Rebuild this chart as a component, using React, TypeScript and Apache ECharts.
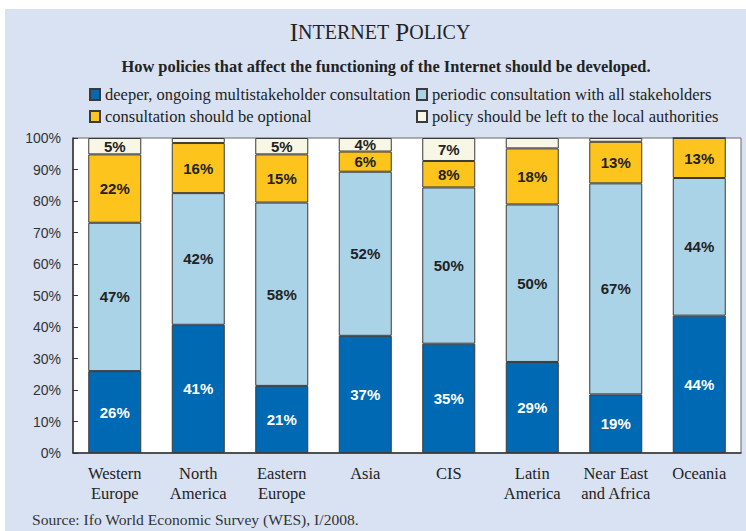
import React, { useEffect, useRef } from "react";
import * as echarts from "echarts";

const categories = [
  "Western\nEurope",
  "North\nAmerica",
  "Eastern\nEurope",
  "Asia",
  "CIS",
  "Latin\nAmerica",
  "Near East\nand Africa",
  "Oceania",
];

const seriesNames = [
  "deeper, ongoing multistakeholder consultation",
  "periodic consultation with all stakeholders",
  "consultation should be optional",
  "policy should be left to the local authorities",
];

const deeper = [26.0, 40.7, 21.3, 37.2, 34.7, 28.9, 18.6, 43.6];
const periodic = [47.1, 41.8, 58.2, 52.1, 49.6, 50.0, 67.0, 43.7];
const optional = [21.7, 15.9, 15.3, 6.4, 8.4, 17.8, 13.2, 12.7];
const local = [5.2, 1.6, 5.2, 4.3, 7.3, 3.3, 1.2, 0];

const yTicks = [0, 10, 20, 30, 40, 50, 60, 70, 80, 90, 100];

const colors = ["#0069b3", "#aad3e7", "#fcc41d", "#f8f6e5"];

export default function App() {
  const ref = useRef<HTMLDivElement>(null);
  useEffect(() => {
    if (!ref.current) return;
    const chart = echarts.init(ref.current, null, { renderer: "svg" });
    const values = [deeper, periodic, optional, local];
    const serif = "'Liberation Serif', 'Times New Roman', serif";
    const sans = "'Liberation Sans', Arial, sans-serif";
    const legendCommon = {
      orient: "vertical",
      padding: 0,
      itemWidth: 10,
      itemHeight: 11,
      itemGap: 5,
      icon: "rect",
      textStyle: { fontFamily: serif, fontSize: 16.5, color: "#222", lineHeight: 17 },
      selectedMode: false,
    };
    chart.setOption({
      animation: false,
      backgroundColor: "#ffffff",
      graphic: [
        {
          type: "rect",
          z: -100,
          silent: true,
          shape: { x: 5, y: 9, width: 741, height: 522 },
          style: { fill: "#d9e2f3" },
        },
        {
          type: "text",
          x: 380,
          y: 32,
          style: {
            text: "{a|I}{b|NTERNET}{a| P}{b|OLICY}",
            textAlign: "center",
            textVerticalAlign: "middle",
            fill: "#222",
            fontFamily: serif,
            rich: {
              a: { fontFamily: serif, fontSize: 25, fill: "#222", color: "#222" },
              b: { fontFamily: serif, fontSize: 20, fill: "#222", color: "#222" },
            },
          },
        },
        {
          type: "text",
          x: 386,
          y: 66,
          style: {
            text: "How policies that affect the functioning of the Internet should be developed.",
            textAlign: "center",
            textVerticalAlign: "middle",
            fill: "#222",
            font: "bold 16.4px " + serif,
          },
        },
        {
          type: "text",
          x: 32,
          y: 519,
          style: {
            text: "Source: Ifo World Economic Survey (WES), I/2008.",
            textAlign: "left",
            textVerticalAlign: "middle",
            fill: "#333",
            font: "15.6px " + serif,
          },
        },
      ],
      legend: [
        { ...legendCommon, data: [seriesNames[0], seriesNames[2]], left: 89, top: 86 },
        { ...legendCommon, data: [seriesNames[1], seriesNames[3]], left: 416, top: 86 },
      ],
      grid: {
        left: 73,
        right: 5,
        top: 138,
        bottom: 78,
        show: true,
        backgroundColor: "#ffffff",
        borderColor: "#666",
        borderWidth: 1,
      },
      xAxis: {
        type: "category",
        data: categories,
        axisLine: { lineStyle: { color: "#333", width: 1.5 } },
        axisTick: { inside: true, length: 7, lineStyle: { color: "#333" } },
        axisLabel: {
          interval: 0,
          hideOverlap: false,
          fontFamily: serif,
          fontSize: 16.5,
          color: "#222",
          lineHeight: 20,
          margin: 10,
        },
      },
      yAxis: {
        type: "value",
        min: yTicks[0],
        max: yTicks[yTicks.length - 1],
        interval: 10,
        axisLine: { show: true, lineStyle: { color: "#333", width: 1.5 } },
        axisTick: { show: true, inside: true, length: 5, lineStyle: { color: "#333" } },
        splitLine: { show: false },
        axisLabel: {
          formatter: "{value}%",
          fontFamily: sans,
          fontSize: 14,
          color: "#333",
          margin: 12,
        },
      },
      series: values.map((arr, i) => ({
        name: seriesNames[i],
        type: "bar",
        stack: "total",
        barWidth: 53,
        data: arr,
        itemStyle: { color: colors[i], borderColor: "#3a3a3a", borderWidth: 1 },
        label: {
          show: true,
          position: "inside",
          fontFamily: sans,
          fontWeight: "bold",
          fontSize: 15,
          color: i === 0 ? "#ffffff" : "#222",
          formatter: (p: any) => (p.value >= 3.5 ? Math.round(p.value) + "%" : ""),
        },
      })),
    });
    return () => chart.dispose();
  }, []);
  return (
    <div
      ref={ref}
      style={{ position: "fixed", left: 0, top: 0, width: 746, height: 531 }}
    />
  );
}
